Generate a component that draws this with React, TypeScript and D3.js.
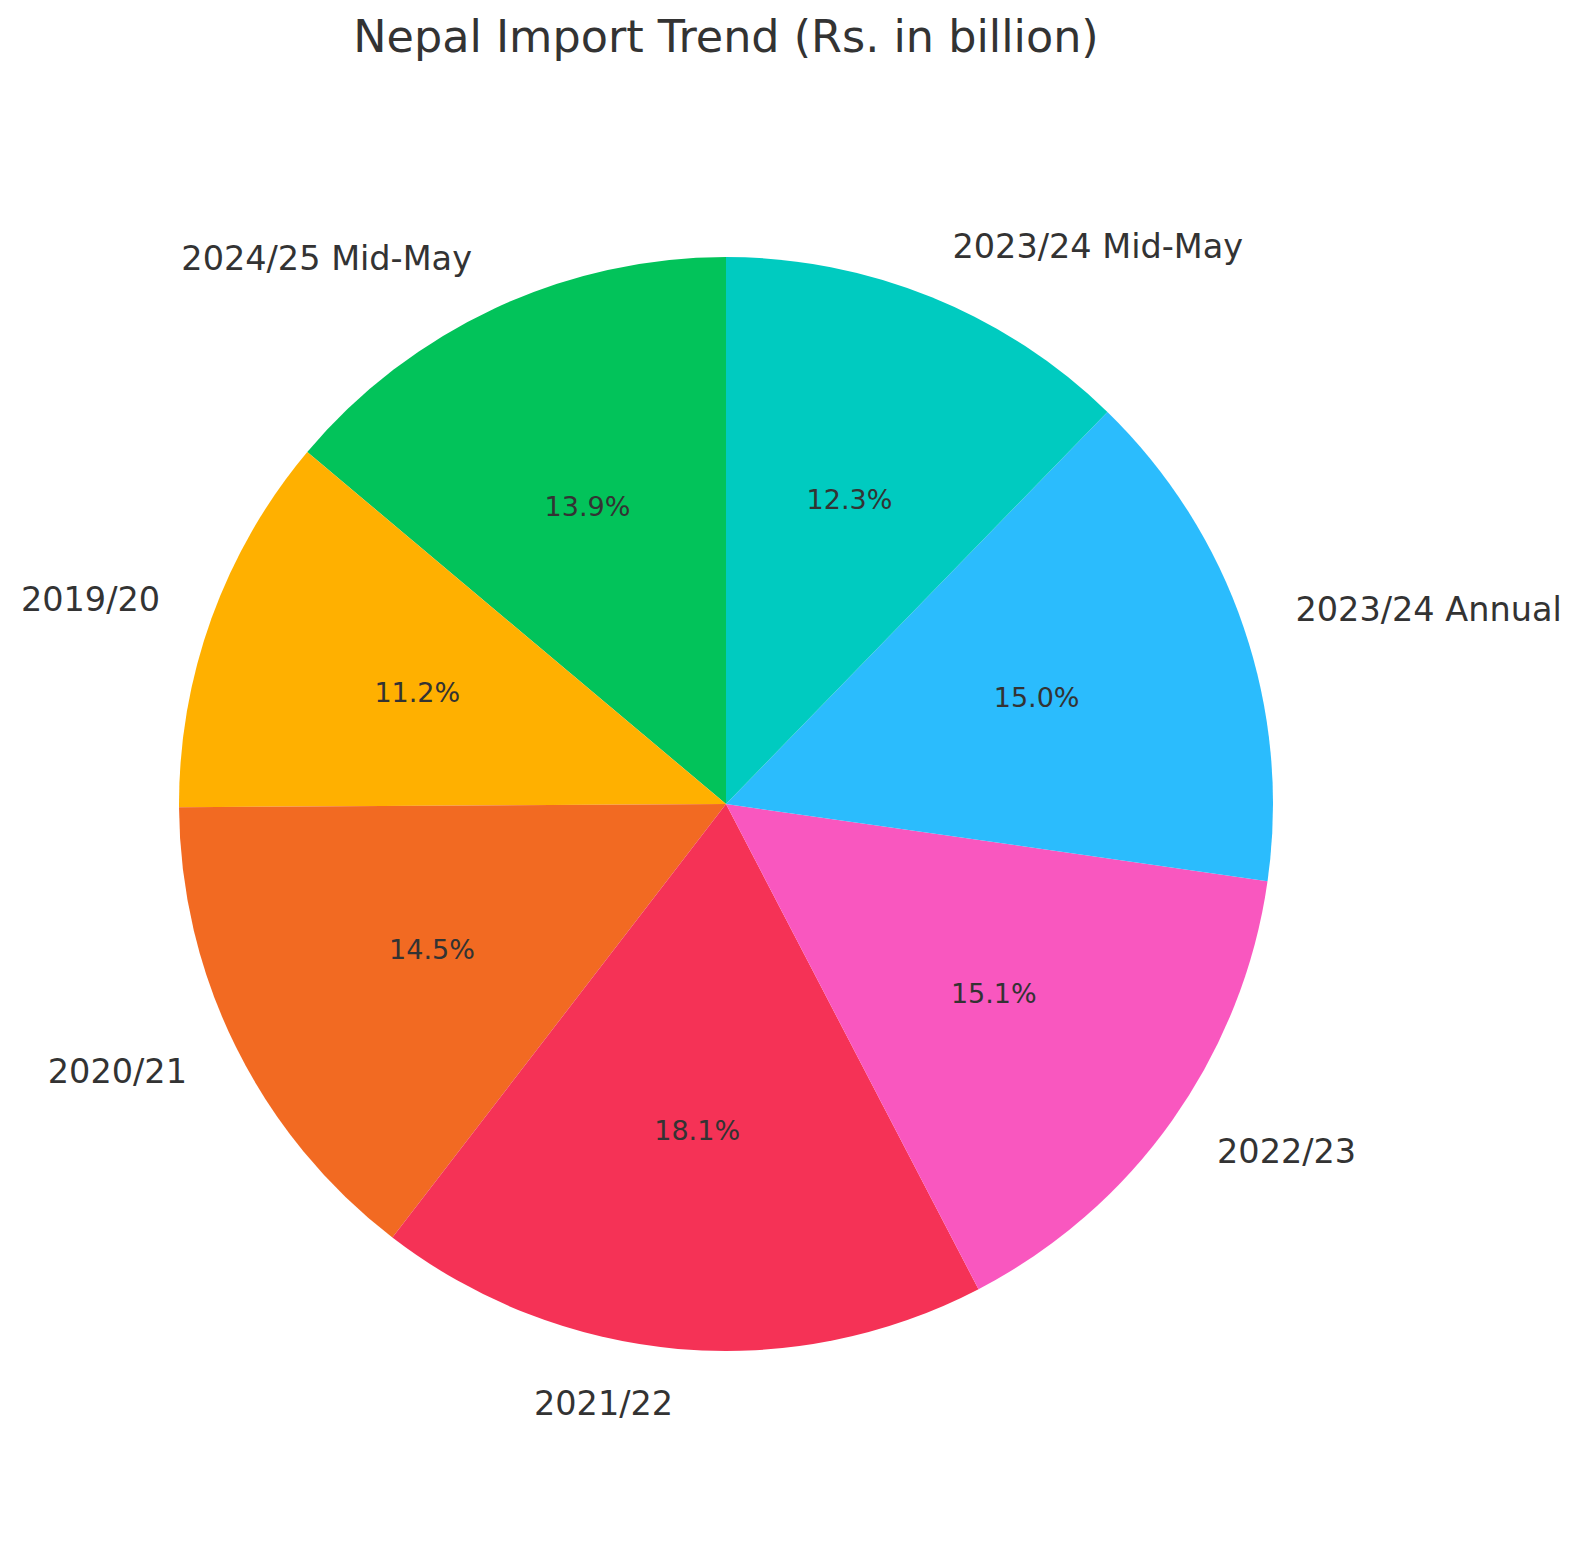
import { useEffect, useRef } from "react";
import * as d3 from "d3";

// import values (Rs. in billion), in the order the wedges are drawn
const periods = [
    "2024/25 Mid-May",
    "2019/20",
    "2020/21",
    "2021/22",
    "2022/23",
    "2023/24 Annual",
    "2023/24 Mid-May"
];
const imports = [1480, 1196.8, 1543, 1928, 1611.7, 1597, 1310];
const colors = ["#02C35A", "#FFB000", "#F26A22", "#F53256", "#F957BF", "#2BBCFD", "#00CBC0"];

const width = 1581;
const height = 1561;

export const PieChart = () => {
    const svgRef = useRef<SVGSVGElement | null>(null);

    useEffect(() => {
        const svg = d3.select(svgRef.current);
        svg.selectAll("*").remove();

        const cx = 726;
        const cy = 804;
        const radius = 547;
        const font = "'DejaVu Sans', sans-serif";

        const data = periods.map((p, i) => ({ label: p, value: imports[i], color: colors[i] }));
        const total = d3.sum(imports);

        // counter-clockwise from the top, like matplotlib startangle=90
        const pie = d3.pie<{ label: string; value: number; color: string }>()
            .value(d => d.value)
            .sort(null)
            .startAngle(0)
            .endAngle(-2 * Math.PI);

        const arcs = pie(data);
        const arc = d3.arc<d3.PieArcDatum<any>>().innerRadius(0).outerRadius(radius);

        const g = svg.append("g").attr("transform", `translate(${cx},${cy})`);

        g.selectAll(".slice")
            .data(arcs)
            .enter()
            .append("path")
            .attr("class", "slice")
            .attr("d", arc)
            .attr("fill", d => d.data.color);

        const pos = (d: d3.PieArcDatum<any>, k: number) => {
            const a = (d.startAngle + d.endAngle) / 2;
            return [Math.sin(a) * radius * k, -Math.cos(a) * radius * k];
        };

        // category labels
        g.selectAll(".label")
            .data(arcs)
            .enter()
            .append("text")
            .attr("class", "label")
            .attr("x", d => pos(d, 1.1)[0])
            .attr("y", d => pos(d, 1.1)[1])
            .attr("dy", "0.34em")
            .attr("text-anchor", d => (pos(d, 1.1)[0] < 0 ? "end" : "start"))
            .attr("font-family", font)
            .attr("font-size", 33.5)
            .attr("fill", "#333333")
            .text(d => d.data.label);

        // percentages
        g.selectAll(".pct")
            .data(arcs)
            .enter()
            .append("text")
            .attr("class", "pct")
            .attr("x", d => pos(d, 0.6)[0])
            .attr("y", d => pos(d, 0.6)[1])
            .attr("dy", "0.34em")
            .attr("text-anchor", "middle")
            .attr("font-family", font)
            .attr("font-size", 27)
            .attr("fill", "#333333")
            .text(d => `${((d.data.value / total) * 100).toFixed(1)}%`);

        svg.append("text")
            .attr("x", cx)
            .attr("y", 52)
            .attr("text-anchor", "middle")
            .attr("font-family", font)
            .attr("font-size", 44.5)
            .attr("fill", "#333333")
            .text("Nepal Import Trend (Rs. in billion)");
    }, []);

    return (
        <svg
            ref={svgRef}
            width={width}
            height={height}
            style={{ position: "fixed", left: 0, top: 0, background: "#ffffff" }}
        ></svg>
    );
};

export default function App() {
    return <PieChart />;
}
